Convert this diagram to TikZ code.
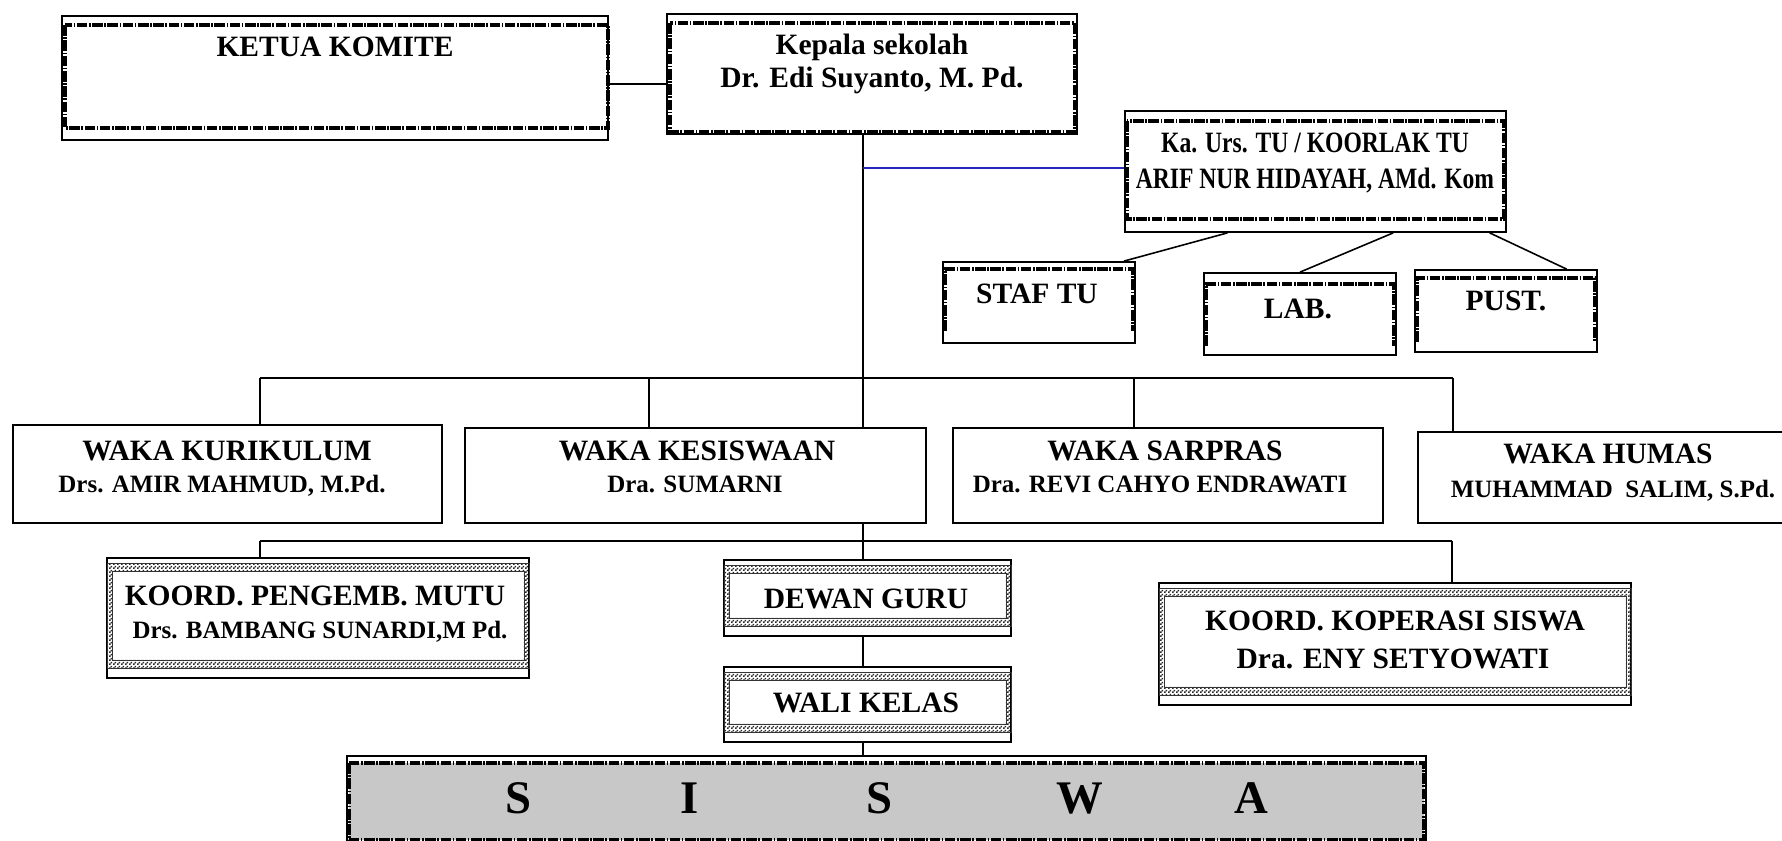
\documentclass[tikz,border=0pt]{standalone}
\usepackage{fontspec}
\setmainfont{Liberation Serif}
\newfontfamily\narrowfont[FakeStretch=0.8]{Liberation Serif}
\usetikzlibrary{fit,calc,patterns}
\definecolor{tublue}{RGB}{40,40,190}
\definecolor{siswagray}{RGB}{200,200,200}
\pgfdeclarepatternformonly{finechecker}{\pgfpointorigin}{\pgfqpoint{2pt}{2pt}}{\pgfqpoint{2pt}{2pt}}{%
  \pgfpathrectangle{\pgfpointorigin}{\pgfqpoint{1.05pt}{1.05pt}}%
  \pgfpathrectangle{\pgfqpoint{1pt}{1pt}}{\pgfqpoint{1.05pt}{1.05pt}}%
  \pgfusepath{fill}}

\begin{document}
\begin{tikzpicture}[
    x=0.02cm, y=-0.02cm,
    box/.style={draw, line width=1pt, inner sep=0pt},
    ttl/.style={font=\fontsize{16.8}{20}\selectfont\bfseries, anchor=base, inner sep=0pt},
    nm/.style={font=\fontsize{14.2}{17}\selectfont\bfseries, anchor=base, inner sep=0pt},
    big/.style={font=\fontsize{26.6}{30}\selectfont\bfseries, anchor=base, inner sep=0pt},
    link/.style={line width=0.9pt},
    tulink/.style={line width=0.9pt, tublue},
    dashband/.style={line width=2pt, dash pattern=on 6pt off 0.9pt on 0.9pt off 0.9pt},
    checkedge/.style={line width=0.4pt, black!80}
]
    \useasboundingbox (0,0) rectangle (1782,841);

    % Boxes
    \node[box, fit={(62,16) (608,140)}] (komite) {};
    \node[box, fit={(667,14) (1077,134)}] (kepsek) {};
    \node[box, fit={(1125,111) (1506,232)}] (tu) {};
    \node[box, fit={(943,262) (1135,343)}] (staf) {};
    \node[box, fit={(1204,273) (1396,355)}] (lab) {};
    \node[box, fit={(1415,270) (1597,352)}] (pust) {};
    \node[box, fit={(13,425) (442,523)}] (kurikulum) {};
    \node[box, fit={(465,428) (926,523)}] (kesiswaan) {};
    \node[box, fit={(953,428) (1383,523)}] (sarpras) {};
    \node[box, fit={(1418,432) (1795,523)}] (humas) {};
    \node[box, fit={(107,558) (529,678)}] (mutu) {};
    \node[box, fit={(724,560) (1011,636)}] (guru) {};
    \node[box, fit={(724,667) (1011,742)}] (wali) {};
    \node[box, fit={(1159,583) (1631,705)}] (koperasi) {};
    \node[box, fit={(347,756) (1426,845)}] (siswa) {};

    % Connectors
    \draw[link] ($(komite.east)+(0,6)$) coordinate (kk) -- (kk -| kepsek.west);
    \coordinate (hub) at (863,378);
    \draw[link] (hub |- kepsek.south) -- (hub |- kesiswaan.north);
    \coordinate (tuhub) at (863,168);
    \draw[tulink] (tuhub) -- (tuhub -| tu.west);
    \draw[link] ($(tu.south west)!0.27!(tu.south east)$) -- ($(staf.north east)+(-12,0)$);
    \draw[link] ($(tu.south west)!0.703!(tu.south east)$) -- (lab.north);
    \draw[link] ($(tu.south west)!0.955!(tu.south east)$) -- ($(pust.north west)!0.83!(pust.north east)$);

    \coordinate (b1) at (260,378);
    \coordinate (b2) at (649,378);
    \coordinate (b4) at (1134,378);
    \coordinate (b5) at (1453,378);
    \draw[link] (b1) -- (b5);
    \foreach \c/\n in {b1/kurikulum, b2/kesiswaan, b4/sarpras, b5/humas}
        \draw[link] (\c) -- (\c |- \n.north);

    \coordinate (c1) at (260,541);
    \coordinate (c3) at (1452,541);
    \draw[link] (c1) -- (c3);
    \draw[link] (c1) -- (c1 |- mutu.north);
    \draw[link] (c3) -- (c3 |- koperasi.north);
    \draw[link] (hub |- kesiswaan.south) -- (hub |- guru.north);
    \draw[link] (hub |- guru.south) -- (hub |- wali.north);
    \draw[link] (hub |- wali.south) -- (hub |- siswa.north);

    % Inner frames
    \fill[siswagray] ($(siswa.north west)+(3,8)$) rectangle ($(siswa.south east)+(-3,-6)$);
    \foreach \n/\t/\r/\b/\l in {komite/10/1/13/4, kepsek/10/3/3/4, tu/11/3/14/3, siswa/8/3/6/3}
        \draw[dashband] ($(\n.north west)+(\l,\t)$) rectangle ($(\n.south east)+(-\r,-\b)$);
    \foreach \n/\t/\s/\e in {staf/8/3/13, lab/12/3/10, pust/9/3/11}
        \draw[dashband] ($(\n.south west)+(\s,-\e)$) |- ($(\n.north)+(0,\t)$) -| ($(\n.south east)+(-\s,-\e)$);
    \foreach \n in {mutu, guru, wali, koperasi} {
        \fill[pattern=finechecker, pattern color=black!85, even odd rule]
            ($(\n.north west)+(1,6)$) rectangle ($(\n.south east)+(-1,-11)$)
            ($(\n.north west)+(6,14)$) rectangle ($(\n.south east)+(-6,-19)$);
        \draw[checkedge] ($(\n.north west)+(1,6)$) rectangle ($(\n.south east)+(-1,-11)$)
            ($(\n.north west)+(6,14)$) rectangle ($(\n.south east)+(-6,-19)$);
    }

    % Texts
    \node[ttl] (komite-t) at (335,57) {KETUA KOMITE};
    \node[ttl] (kepsek-t1) at (872,55) {Kepala sekolah};
    \node[ttl] (kepsek-t2) at (872,88) {Dr. Edi Suyanto, M. Pd.};
    \node[ttl, font=\fontsize{16.8}{20}\selectfont\narrowfont\bfseries] (tu-t1) at (1315,153) {Ka. Urs. TU / KOORLAK TU};
    \node[ttl, font=\fontsize{16.8}{20}\selectfont\narrowfont\bfseries] (tu-t2) at (1315,189) {ARIF NUR HIDAYAH, AMd. Kom};
    \node[ttl] (staf-t) at (1037,303) {STAF TU};
    \node[ttl] (lab-t) at (1298,318) {LAB.};
    \node[ttl] (pust-t) at (1506,311) {PUST.};

    \node[ttl] (kurikulum-t1) at (227,460) {WAKA KURIKULUM};
    \node[nm] (kurikulum-t2) at (222,492) {Drs. AMIR MAHMUD, M.Pd.};
    \node[ttl] (kesiswaan-t1) at (697,460) {WAKA KESISWAAN};
    \node[nm] (kesiswaan-t2) at (695,492) {Dra. SUMARNI};
    \node[ttl] (sarpras-t1) at (1165,460) {WAKA SARPRAS};
    \node[nm] (sarpras-t2) at (1160,492) {Dra. REVI CAHYO ENDRAWATI};
    \node[ttl] (humas-t1) at (1608,463) {WAKA HUMAS};
    \node[nm] (humas-t2) at (1613,497) {MUHAMMAD\ \ SALIM, S.Pd.};

    \node[ttl] (mutu-t1) at (315,605) {KOORD. PENGEMB. MUTU};
    \node[nm] (mutu-t2) at (320,638) {Drs. BAMBANG SUNARDI,M Pd.};
    \node[ttl] (guru-t) at (866,608) {DEWAN GURU};
    \node[ttl] (wali-t) at (866,712) {WALI KELAS};
    \node[ttl] (koperasi-t1) at (1395,630) {KOORD. KOPERASI SISWA};
    \node[ttl] (koperasi-t2) at (1393,668) {Dra. ENY SETYOWATI};

    \foreach \x/\c [count=\i] in {518/S, 690/I, 879/S, 1080/W, 1251/A}
        \node[big] (siswa-\i) at (\x,813) {\c};
\end{tikzpicture}
\end{document}
